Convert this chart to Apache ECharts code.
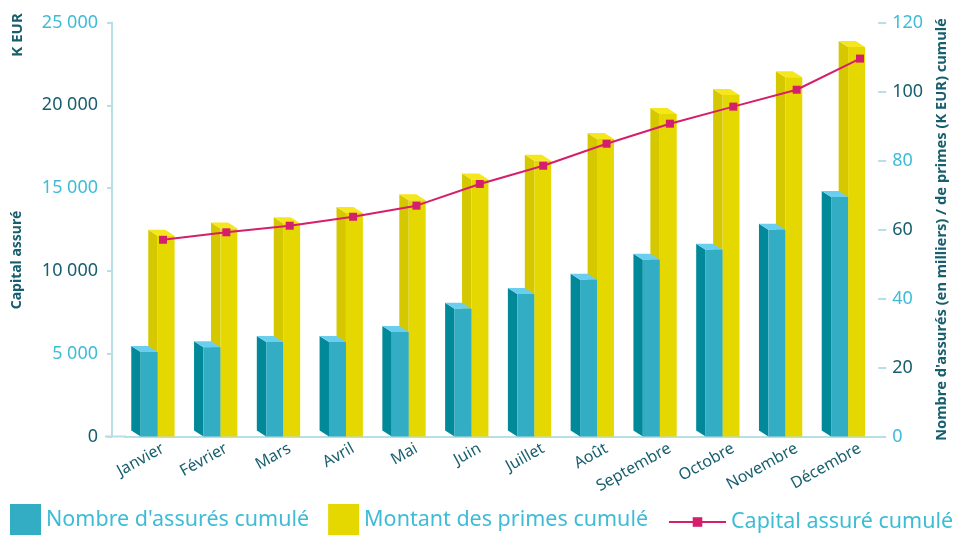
<!DOCTYPE html>
<html>
<head>
<meta charset="utf-8">
<script src="https://cdn.jsdelivr.net/npm/echarts@6/dist/echarts.min.js"></script>
<style>
    body { margin: 0; background: #fff; }
    #pic { width: 957px; height: 535px; }
</style>
</head>
<body>
<div id="pic"></div>
<script>
var months = ['Janvier', 'Février', 'Mars', 'Avril', 'Mai', 'Juin', 'Juillet', 'Août', 'Septembre', 'Octobre', 'Novembre', 'Décembre'];
// nombre d'assurés cumulé (milliers) - axe droit
var assures = [24.5, 25.9, 27.4, 27.4, 30.3, 37.0, 41.3, 45.4, 51.2, 54.1, 59.9, 69.4];
// montant des primes cumulé (K EUR) - axe droit
var primes = [58.2, 60.3, 61.8, 64.8, 68.5, 74.5, 79.9, 86.2, 93.5, 99.0, 104.1, 112.9];
// capital assuré cumulé (K EUR) - axe gauche
var capital = [11880, 12330, 12730, 13270, 13940, 15250, 16350, 17680, 18890, 19920, 20940, 22820];

var leftTicks = [0, 25000, 5000];
var rightTicks = [0, 120, 20];

var LIGHT = '#3ebcd6';
var DARK = '#175f6e';
var AXIS = '#b7dfe6';
var FONT = 'Noto Sans';

function bar3d(front, side, top, offFrac) {
    return function (params, api) {
        var base = api.coord([api.value(0), 0]);
        var tip = api.coord([api.value(0), api.value(1)]);
        var bw = api.size([1, 0])[0];
        var x0 = base[0] + offFrac * bw;
        var w = 0.27 * bw, dx = 0.15 * bw, dy = 6;
        var yb = base[1], yt = tip[1];
        return {
            type: 'group',
            children: [
                {type: 'polygon', shape: {points: [[x0 - dx, yt - dy], [x0, yt], [x0, yb], [x0 - dx, yb - dy]]}, style: {fill: side}},
                {type: 'polygon', shape: {points: [[x0 - dx, yt - dy], [x0 - dx + w, yt - dy], [x0 + w, yt], [x0, yt]]}, style: {fill: top}},
                {type: 'rect', shape: {x: x0, y: yt, width: w, height: yb - yt}, style: {fill: front}}
            ]
        };
    };
}

function spaced(v) {
    return String(v).replace(/\B(?=(\d{3})+(?!\d))/g, ' ');
}

var myChart = echarts.init(document.getElementById('pic'), null, {renderer: 'canvas'});

var option = {
    animation: false,
    textStyle: {fontFamily: FONT},
    grid: [
        {left: 125, right: 71, top: 22.5, bottom: 98.5},
        {left: 131.3, right: 65.3, top: 22.5, bottom: 98.5}
    ],
    xAxis: [
        {
            type: 'category', gridIndex: 0, data: months, boundaryGap: true,
            axisLine: {lineStyle: {color: AXIS, width: 2}},
            axisTick: {length: 6, lineStyle: {color: AXIS, width: 2}},
            axisLabel: {show: false}
        },
        {
            type: 'category', gridIndex: 1, data: months,
            axisLine: {show: false}, axisTick: {show: false},
            axisLabel: {rotate: 29, margin: 11, fontSize: 16, color: DARK, fontFamily: FONT}
        }
    ],
    yAxis: [
        {
            type: 'value', gridIndex: 0, position: 'left', offset: 13,
            min: leftTicks[0], max: leftTicks[1], interval: leftTicks[2],
            axisLine: {show: true, lineStyle: {color: AXIS, width: 2}},
            axisTick: {show: true, length: 5, lineStyle: {color: AXIS, width: 2}},
            splitLine: {show: false},
            axisLabel: {
                margin: 14, fontSize: 18, fontFamily: FONT,
                formatter: spaced,
                color: function (v, i) { return (v / 5000) % 2 === 0 ? DARK : LIGHT; }
            }
        },
        {
            type: 'value', gridIndex: 0, position: 'right',
            min: rightTicks[0], max: rightTicks[1], interval: rightTicks[2],
            axisLine: {show: false},
            axisTick: {show: true, length: 8, lineStyle: {color: AXIS, width: 2}},
            splitLine: {show: false},
            axisLabel: {
                margin: 14, fontSize: 18, fontFamily: FONT,
                color: function (v, i) { return (v / 20) % 2 === 0 ? LIGHT : DARK; }
            },
            name: "Nombre d'assurés (en milliers) / de primes (K EUR) cumulé",
            nameLocation: 'middle', nameRotate: 90, nameGap: 54,
            nameTextStyle: {color: DARK, fontWeight: 'bold', fontSize: 14.7, fontFamily: FONT}
        },
        {
            type: 'value', gridIndex: 1, show: false,
            min: leftTicks[0], max: leftTicks[1], interval: leftTicks[2]
        }
    ],
    legend: [
        {
            left: 10, top: 504, padding: 0, itemWidth: 31, itemHeight: 31, itemGap: 19,
            icon: 'rect',
            data: ["Nombre d'assurés cumulé", 'Montant des primes cumulé'],
            textStyle: {color: LIGHT, fontSize: 21.5, fontFamily: FONT, padding: [9, 0, 0, 0]}
        },
        {
            left: 668, top: 511, padding: 0, itemWidth: 57, itemHeight: 12, itemGap: 8,
            data: ['Capital assuré cumulé'],
            textStyle: {color: LIGHT, fontSize: 21.5, fontFamily: FONT, padding: [5, 0, 0, 0]}
        }
    ],
    graphic: [
        {type: 'line', shape: {x1: 105, y1: 436.5, x2: 126, y2: 436.5}, style: {stroke: AXIS, lineWidth: 2}},
        {type: 'text', x: 17.5, y: 35, rotation: Math.PI / 2,
            style: {text: 'K EUR', fill: DARK, font: 'bold 15px "Noto Sans"', textAlign: 'center', textVerticalAlign: 'middle'}},
        {type: 'text', x: 17.5, y: 260, rotation: Math.PI / 2,
            style: {text: 'Capital assuré', fill: DARK, font: 'bold 14px "Noto Sans"', textAlign: 'center', textVerticalAlign: 'middle'}}
    ],
    series: [
        {
            name: 'Montant des primes cumulé',
            type: 'custom', xAxisIndex: 0, yAxisIndex: 1, z: 2,
            itemStyle: {color: '#e5d800'},
            renderItem: bar3d('#e5d800', '#d6c800', '#f6e71c', 0.02),
            data: primes.map(function (v, i) { return [i, v]; })
        },
        {
            name: "Nombre d'assurés cumulé",
            type: 'custom', xAxisIndex: 0, yAxisIndex: 1, z: 3,
            itemStyle: {color: '#33adc4'},
            renderItem: bar3d('#33adc4', '#01899a', '#6acfef', -0.25),
            data: assures.map(function (v, i) { return [i, v]; })
        },
        {
            name: 'Capital assuré cumulé',
            type: 'line', xAxisIndex: 1, yAxisIndex: 2, z: 5,
            symbol: 'rect', symbolSize: 8,
            lineStyle: {color: '#d61f6c', width: 2},
            itemStyle: {color: '#d61f6c'},
            data: capital
        }
    ]
};

myChart.setOption(option);
</script>
</body>
</html>
